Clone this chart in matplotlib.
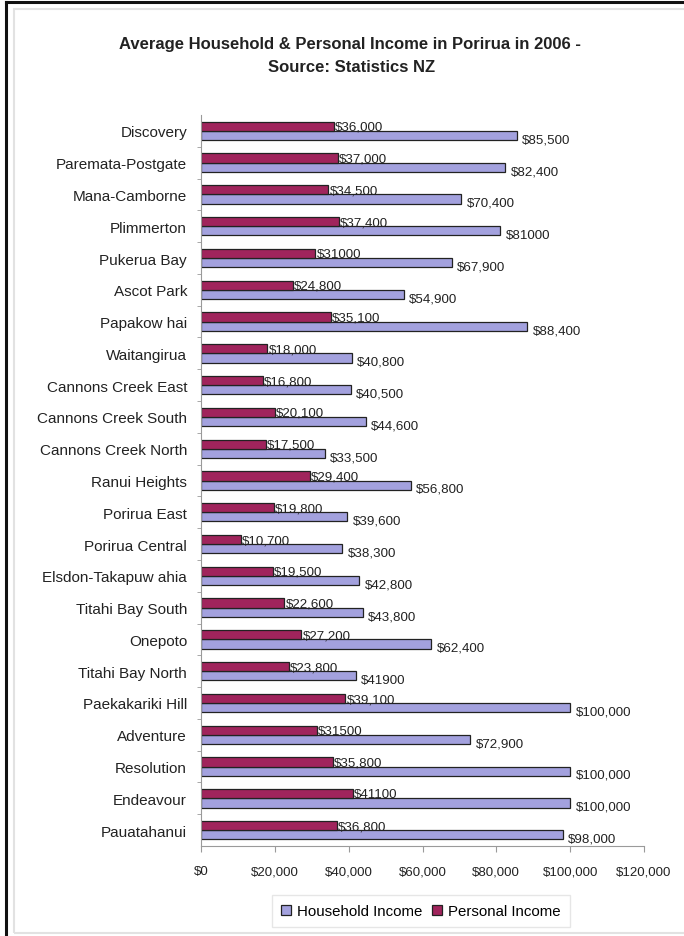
"""Average household & personal income in Porirua, 2006."""
import matplotlib
matplotlib.use("Agg")
import matplotlib.pyplot as plt
from matplotlib.patches import Rectangle
from matplotlib.lines import Line2D
from matplotlib.ticker import FuncFormatter

suburbs = [
    "Discovery", "Paremata-Postgate", "Mana-Camborne", "Plimmerton",
    "Pukerua Bay", "Ascot Park", "Papakow hai", "Waitangirua",
    "Cannons Creek East", "Cannons Creek South", "Cannons Creek North",
    "Ranui Heights", "Porirua East", "Porirua Central", "Elsdon-Takapuw ahia",
    "Titahi Bay South", "Onepoto", "Titahi Bay North", "Paekakariki Hill",
    "Adventure", "Resolution", "Endeavour", "Pauatahanui",
]
household = [
    85500, 82400, 70400, 81000, 67900, 54900, 88400, 40800, 40500, 44600,
    33500, 56800, 39600, 38300, 42800, 43800, 62400, 41900, 100000, 72900,
    100000, 100000, 98000,
]
personal = [
    36000, 37000, 34500, 37400, 31000, 24800, 35100, 18000, 16800, 20100,
    17500, 29400, 19800, 10700, 19500, 22600, 27200, 23800, 39100, 31500,
    35800, 41100, 36800,
]
# labels that Excel showed without a thousands separator
no_comma = [81000, 31000, 41900, 31500, 41100]

HOUSE = "#A3A1DE"
PERS = "#A0245C"
GREY = "#9A9A9A"
FONT = ["Liberation Sans", "DejaVu Sans"]

plt.rcParams.update({"font.family": FONT})


def money(v):
    return f"${v}" if v in no_comma else f"${v:,}"


fig = plt.figure(figsize=(6.84, 9.37), dpi=100)

# outer frame: black edge on left/top, light grey chart-area border
fig.add_artist(Line2D([6 / 684, 6 / 684], [0, 1 - 3 / 937], color="#111111", lw=2.2,
                      transform=fig.transFigure))
fig.add_artist(Line2D([6 / 684, 1], [1 - 3 / 937, 1 - 3 / 937], color="#111111", lw=2.2,
                      transform=fig.transFigure))
fig.add_artist(Rectangle((14 / 684, 1 - 934 / 937), 1.2, (934 - 10) / 937,
                         transform=fig.transFigure, fill=False,
                         edgecolor="#E2E2E2", lw=1.5))

ax = fig.add_axes([201 / 684, 1 - 847 / 937, 443 / 684, 731 / 937])

pos = list(range(len(suburbs)))
h = 0.29
ax.barh([p + h / 2 for p in pos], household, height=h, color=HOUSE,
        edgecolor="#222222", linewidth=0.9, label="Household Income")
ax.barh([p - h / 2 for p in pos], personal, height=h, color=PERS,
        edgecolor="#222222", linewidth=0.9, label="Personal Income")

for p, hv, pv in zip(pos, household, personal):
    ax.text(hv + 1500, p + h / 2 + 0.12, money(hv), va="center", ha="left",
            fontsize=9.6, color="#222222")
    ax.text(pv + 300, p - h / 2 + 0.02, money(pv), va="center", ha="left",
            fontsize=9.6, color="#222222")

ax.set_ylim(len(suburbs) - 0.5, -0.5)
ax.set_yticks(pos)
ax.set_yticklabels(suburbs, fontsize=11, color="#222222")
ax.set_yticks([p + 0.5 for p in pos[:-1]], minor=True)
ax.tick_params(axis="y", which="major", length=0, pad=10)
ax.tick_params(axis="y", which="minor", length=3, color=GREY)

ax.set_xlim(0, 120000)
ax.set_xticks(range(0, 120001, 20000))
ax.xaxis.set_major_formatter(FuncFormatter(lambda v, _: f"${int(v):,}"))
ax.tick_params(axis="x", length=4, color=GREY, labelsize=9.5, pad=10,
               labelcolor="#222222")

for side in ("top", "right"):
    ax.spines[side].set_visible(False)
for side in ("left", "bottom"):
    ax.spines[side].set_color(GREY)
    ax.spines[side].set_linewidth(0.8)

fig.text(350 / 684, 1 - 45 / 937,
         "Average Household & Personal Income in Porirua in 2006 -",
         ha="center", va="center", fontsize=12, fontweight="bold", color="#222222")
fig.text(352 / 684, 1 - 68 / 937, "Source: Statistics NZ",
         ha="center", va="center", fontsize=12, fontweight="bold", color="#222222")

handles, labels = ax.get_legend_handles_labels()
leg = fig.legend(handles, labels, loc="center", bbox_to_anchor=(421 / 684, 1 - 912 / 937),
                 ncol=2, fontsize=10.8, frameon=True, fancybox=False,
                 handlelength=0.7, handleheight=0.7, handletextpad=0.4,
                 columnspacing=0.6, borderpad=0.6)
leg.get_frame().set_edgecolor("#E0E0E0")
leg.get_frame().set_linewidth(1.0)

fig.savefig("out.png", dpi=100, facecolor="white")
